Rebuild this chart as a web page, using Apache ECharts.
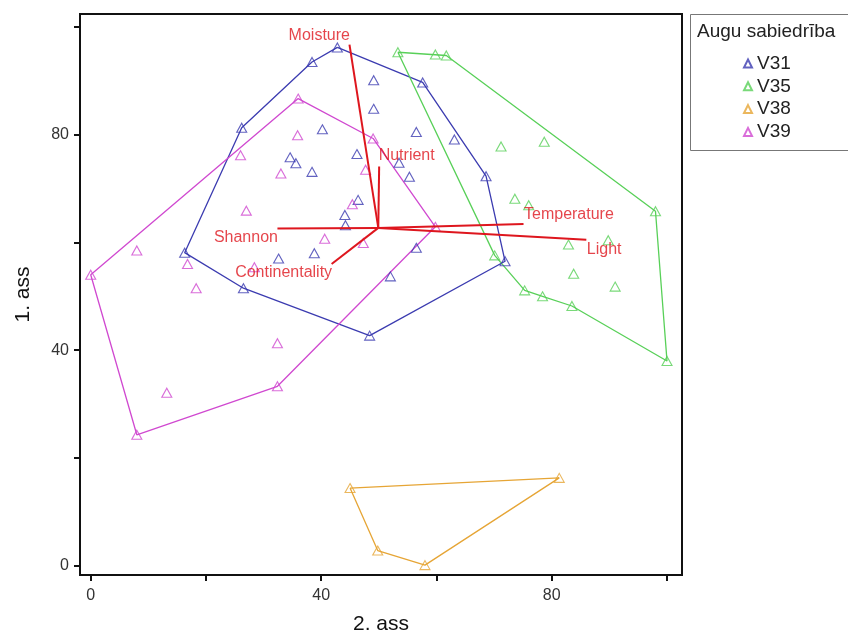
<!DOCTYPE html>
<html>
<head>
<meta charset="utf-8">
<script src="https://cdn.jsdelivr.net/npm/echarts@6/dist/echarts.min.js"></script>
<style>html,body{margin:0;padding:0;background:#fff}#c{width:848px;height:634px}</style>
</head>
<body>
<div id="c"></div>
<script>
// ---- data ----
const groups = ['V31', 'V35', 'V38', 'V39'];
const v31x = [42.8, 38.4, 26.2, 16.3, 26.5, 48.4, 71.9, 68.6, 57.6, 49.1, 49.1, 40.2, 56.5, 63.1, 34.6, 35.6, 38.4, 46.2, 53.5, 55.3, 46.4, 44.1, 44.2, 38.8, 32.6, 52.0, 56.5];
const v31y = [96.2, 93.5, 81.3, 58.1, 51.5, 42.7, 56.5, 72.3, 89.7, 90.1, 84.8, 81.0, 80.5, 79.1, 75.8, 74.7, 73.1, 76.4, 74.8, 72.2, 67.9, 65.1, 63.2, 58.0, 57.0, 53.7, 59.0];
const v31hull = [0, 8, 7, 6, 5, 4, 3, 2, 1];
const v35x = [53.3, 59.8, 61.7, 71.2, 78.7, 73.6, 76.0, 98.0, 82.9, 89.8, 70.1, 83.8, 91.0, 75.3, 78.4, 83.5, 100.0];
const v35y = [95.3, 94.9, 94.7, 77.8, 78.7, 68.1, 66.9, 65.8, 59.6, 60.4, 57.6, 54.2, 51.8, 51.1, 50.0, 48.2, 38.0];
const v35hull = [0, 2, 7, 16, 15, 14, 13, 10];
const v38x = [45.0, 49.8, 81.3, 58.0];
const v38y = [14.4, 2.8, 16.3, 0.1];
const v38hull = [0, 2, 3, 1];
const v39x = [36.0, 49.0, 59.8, 32.4, 8.0, 0.0, 35.9, 26.0, 33.0, 47.7, 27.0, 45.4, 40.6, 47.3, 8.0, 16.8, 18.3, 28.4, 32.4, 13.2];
const v39y = [86.7, 79.3, 62.9, 33.3, 24.3, 54.0, 79.9, 76.2, 72.8, 73.5, 65.9, 67.1, 60.7, 59.9, 58.5, 56.0, 51.5, 55.4, 41.3, 32.1];
const v39hull = [0, 1, 2, 3, 4, 5];

const vecNames = ['Moisture', 'Nutrient', 'Temperature', 'Light', 'Shannon', 'Continentality'];
const vecOrigin = [49.9, 62.7];
const vecEndX = [44.9, 50.05, 75.1, 86.0, 32.4, 41.8];
const vecEndY = [96.7, 74.1, 63.4, 60.5, 62.6, 56.0];

const xTicks = [0, 20, 40, 60, 80, 100];
const xLabels = [0, 40, 80];
const yTicks = [0, 20, 40, 60, 80, 100];
const yLabels = [0, 40, 80];

// ---- styles ----
const FONT = '"Liberation Sans", Arial, sans-serif';
const colors = {V31: '#3b3bb0', V35: '#58d058', V38: '#e6a535', V39: '#d048d0'};
const RED = '#de161e';
const labelPos = {
  Moisture:       {align: 'right', offset: [1, -9]},
  Nutrient:       {align: 'left',  offset: [0, -10]},
  Temperature:    {align: 'left',  offset: [1, -9]},
  Light:          {align: 'left',  offset: [1, 10]},
  Shannon:        {align: 'right', offset: [1, 10]},
  Continentality: {align: 'right', offset: [1, 9]}
};

const sets = {
  V31: [v31x, v31y, v31hull],
  V35: [v35x, v35y, v35hull],
  V38: [v38x, v38y, v38hull],
  V39: [v39x, v39y, v39hull]
};

const series = [];
groups.forEach(g => {
  const [xs, ys, hull] = sets[g];
  const ring = hull.concat([hull[0]]).map(i => [xs[i], ys[i]]);
  series.push({
    type: 'line', name: g + '_hull', data: ring, symbol: 'none', silent: true,
    lineStyle: {color: colors[g], width: 1.3}, z: 2, animation: false, clip: false
  });
});
groups.forEach(g => {
  const [xs, ys] = sets[g];
  series.push({
    type: 'scatter', name: g, data: xs.map((x, i) => [x, ys[i]]),
    symbol: 'triangle', symbolSize: [10, 9],
    itemStyle: {color: 'rgba(255,255,255,0)', borderColor: colors[g], borderWidth: 1.1},
    z: 4, animation: false, clip: false
  });
});
vecNames.forEach((n, i) => {
  series.push({
    type: 'line', name: n + '_vec', data: [vecOrigin, [vecEndX[i], vecEndY[i]]],
    symbol: 'none', lineStyle: {color: RED, width: 2}, z: 5, animation: false, silent: true
  });
});
series.push({
  type: 'scatter', name: 'vecLabels',
  data: vecNames.map((n, i) => ({
    value: [vecEndX[i], vecEndY[i]],
    label: {show: true, position: [0, 0], formatter: n, align: labelPos[n].align,
            verticalAlign: 'middle', offset: labelPos[n].offset,
            color: RED, fontSize: 16, fontFamily: FONT}
  })),
  symbolSize: 1, itemStyle: {color: 'rgba(0,0,0,0)'}, z: 6, animation: false, silent: true
});

const chart = echarts.init(document.getElementById('c'), null, {renderer: 'canvas'});
chart.setOption({
  backgroundColor: '#fff',
  animation: false,
  grid: {left: 80, right: 166, top: 14, bottom: 59, containLabel: false, outerBoundsMode: 'none',
         show: true, borderColor: '#111', borderWidth: 2, backgroundColor: 'transparent'},
  xAxis: {
    type: 'value', min: -1.86, max: 102.6,
    name: '2. ass', nameLocation: 'middle', nameGap: 39,
    nameTextStyle: {fontSize: 21, color: '#111', fontFamily: FONT},
    axisLine: {show: false, onZero: false},
    axisTick: {show: true, length: 6, customValues: xTicks, lineStyle: {color: '#111', width: 2}},
    axisLabel: {customValues: xLabels, fontSize: 16, color: '#333', fontFamily: FONT, margin: 13},
    splitLine: {show: false}
  },
  yAxis: {
    type: 'value', min: -1.73, max: 102.4,
    name: '1. ass', nameLocation: 'middle', nameGap: 46, nameRotate: 90,
    nameTextStyle: {fontSize: 21, color: '#111', fontFamily: FONT},
    axisLine: {show: false, onZero: false},
    axisTick: {show: true, length: 6, customValues: yTicks, lineStyle: {color: '#111', width: 2}},
    axisLabel: {customValues: yLabels, fontSize: 16, color: '#333', fontFamily: FONT, margin: 11},
    splitLine: {show: false}
  },
  legend: {
    data: groups, orient: 'vertical', left: 743, top: 54, padding: 0,
    itemWidth: 8, itemHeight: 8, itemGap: 3.8,
    textStyle: {fontSize: 19, color: '#222', fontFamily: FONT, lineHeight: 18},
    selectedMode: false
  },
  graphic: [
    {type: 'rect', left: 690, top: 14, shape: {width: 170, height: 136},
     style: {fill: '#fff', stroke: '#777', lineWidth: 1}, z: -1},
    {type: 'text', left: 697, top: 22, style: {text: 'Augu sabiedrība', fontSize: 19, fill: '#222', fontFamily: FONT}}
  ],
  series: series
});
</script>
</body>
</html>
